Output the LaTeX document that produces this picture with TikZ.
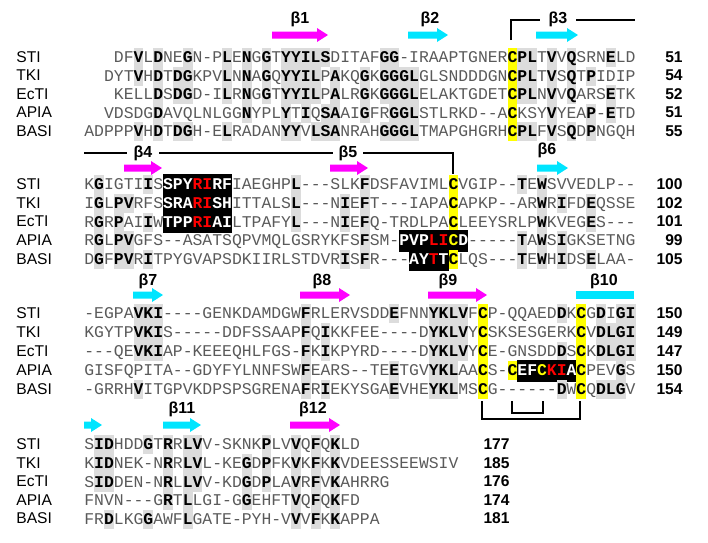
\documentclass[tikz,border=0pt]{standalone}
\usepackage{fontspec}
\setmainfont{Liberation Sans}
\newfontfamily\seqfont{Liberation Mono}[Ligatures=TeXOff]
\newfontfamily\grk{Liberation Sans}
\definecolor{shade}{HTML}{DCDCDC}
\definecolor{seqgray}{HTML}{5A5A5A}
\definecolor{mag}{HTML}{FF00FF}
\definecolor{cya}{HTML}{00E5FF}
\definecolor{yel}{HTML}{FFFF00}
\newcommand\sstrut{\rule[-2.3pt]{0pt}{9.5pt}}
\newcommand\sB[1]{{\setlength\fboxsep{0pt}\colorbox{shade}{\sstrut\textcolor{black}{\bfseries #1}}}}
\newcommand\sY[1]{{\setlength\fboxsep{0pt}\colorbox{yel}{\sstrut\textcolor{black}{\bfseries #1}}}}
\newcommand\sK[1]{{\setlength\fboxsep{0pt}\colorbox{black}{\rule[-3pt]{0pt}{11pt}\textcolor{white}{\bfseries #1}}}}
\newcommand\sR[1]{\textcolor{red}{#1}}
\newcommand\sYt[1]{\textcolor{yel}{#1}}
\tikzset{
 seq/.style={anchor=base west,inner sep=0pt,font=\seqfont\fontsize{8.2pt}{9pt}\selectfont,text=seqgray},
 nm/.style={anchor=west,inner sep=0pt,font=\fontsize{7.8pt}{9pt}\selectfont},
 num/.style={anchor=east,inner sep=0pt,font=\bfseries\fontsize{7.8pt}{9pt}\selectfont},
 blab/.style={inner sep=1pt,font=\grk\bfseries\fontsize{8pt}{9pt}\selectfont},
 brk/.style={line width=0.9pt}
}
% seq arrow: x1 x2 y color
\newcommand\sarr[4]{\fill[#4] (#1,#3-3.5) -- (#2-11,#3-3.5) -- (#2-11,#3-7) -- (#2,#3) -- (#2-11,#3+7) -- (#2-11,#3+3.5) -- (#1,#3+3.5) -- cycle;}
\newcommand\rowx[6]{% y, name, offset, seq, number, numx
 \node[nm] (n#2#1) at (16,#1) {#2};
 \node[seq] (s#2#1) at ({84+#3*9.84},#1+5.5) {#4};
 \node[num] (c#2#1) at (#6,#1) {#5};}
\begin{document}
\begin{tikzpicture}[x=0.5pt,y=-0.5pt]
\useasboundingbox (0,0) rectangle (708,542);
% block 1
\sarr{272}{328}{35}{mag}\node[blab] (b1) at (300,19) {β1};
\sarr{408}{448}{35}{cya}\node[blab] (b2) at (430,19) {β2};
\sarr{536}{578}{35}{cya}\node[blab] (b3) at (558,19) {β3};
\draw[brk] (511,40) -- (511,20) -- (540,20);
\draw[brk] (576,20) -- (635,20);
\rowx{57}{STI}{3}{DF\sB{V}L\sB{D}NE\sB{G}N-P\sB{L}E\sB{N}G\sB{G}T\sB{YYILS}DITAF\sB{GG}-IRAAPTGNER\sY{C}\sB{PL}T\sB{V}V\sB{Q}SRN\sB{E}LD}{51}{683}
\rowx{75.5}{TKI}{2}{DYT\sB{V}H\sB{D}T\sB{DG}KPV\sB{L}N\sB{N}A\sB{G}Q\sB{YYIL}P\sB{A}KQ\sB{G}K\sB{GGGL}GLSNDDDGN\sY{C}\sB{PL}T\sB{V}S\sB{Q}T\sB{P}IDIP}{54}{683}
\rowx{94}{EcTI}{3}{KELL\sB{D}S\sB{DG}D-I\sB{L}R\sB{N}G\sB{G}T\sB{YYIL}P\sB{A}LR\sB{G}K\sB{GGGL}ELAKTGDET\sY{C}\sB{PL}N\sB{V}V\sB{Q}ARS\sB{E}TK}{52}{683}
\rowx{112.5}{APIA}{2}{VDSDG\sB{D}AVQLNLGG\sB{N}YPL\sB{Y}T\sB{I}Q\sB{SA}AI\sB{G}FR\sB{GGL}STLRKD--A\sY{C}KSY\sB{V}YEA\sB{P}-\sB{E}TD}{51}{683}
\rowx{131}{BASI}{0}{ADPPP\sB{V}H\sB{D}T\sB{DG}H-E\sB{L}RADAN\sB{YY}V\sB{LSA}NRAH\sB{GGGL}TMAPGHGRH\sY{C}\sB{PL}F\sB{V}S\sB{Q}D\sB{P}NGQH}{55}{683}
% block 2
\draw[brk] (84,153) -- (127,153);
\node[blab] (b4) at (143,153) {β4};
\draw[brk] (159,153) -- (333,153);
\node[blab] (b5) at (348,153) {β5};
\draw[brk] (363,153) -- (453,153) -- (453,174);
\sarr{124}{162}{168}{mag}
\sarr{330}{368}{168}{mag}
\sarr{537}{568}{168}{cya}\node[blab] (b6) at (547,150) {β6};
\rowx{184}{STI}{0}{K\sB{G}IGTI\sB{I}S\sK{SPY\sR{RI}RF}IAEGHP\sB{L}---SLK\sB{F}DSFAVIML\sY{C}VGIP--\sB{T}E\sB{W}SVVEDLP--}{100}{683}
\rowx{203}{TKI}{0}{I\sB{G}L\sB{PV}RFS\sK{SRA\sR{RI}SH}ITTALS\sB{L}---N\sB{I}E\sB{F}T---IAPA\sY{C}APKP--AR\sB{W}R\sB{I}FD\sB{E}QSSE}{102}{683}
\rowx{221.5}{EcTI}{0}{R\sB{G}R\sB{P}AI\sB{I}W\sK{TPP\sR{RI}AI}LTPAFY\sB{L}---N\sB{I}E\sB{F}Q-TRDLPA\sY{C}LEEYSRLP\sB{W}KVEG\sB{E}S---}{101}{683}
\rowx{240}{APIA}{0}{R\sB{G}L\sB{PV}GFS--ASATSQPVMQLGSRYKFS\sB{F}SM-\sK{PVP\sR{LI}\sYt{C}D}-----\sB{T}A\sB{W}S\sB{I}GKSETNG}{99}{683}
\rowx{259}{BASI}{0}{D\sB{G}F\sB{PV}R\sB{I}TPYGVAPSDKIIRLSTDVR\sB{I}S\sB{F}R---\sK{AY\sR{T}T}\sY{C}LQS---\sB{T}E\sB{W}H\sB{I}DS\sB{E}LAA-}{105}{683}
% block 3
\sarr{133}{163}{295}{cya}\node[blab] (b7) at (148,281) {β7};
\sarr{300}{350}{295}{mag}\node[blab] (b8) at (322,281) {β8};
\sarr{428}{487}{295}{mag}\node[blab] (b9) at (448,281) {β9};
\fill[cya] (576,291) rectangle (634,299);\node[blab] (b10) at (604,281) {β10};
\rowx{313}{STI}{0}{-EGPA\sB{VKI}----GENKDAMDGW\sB{F}RLERVSDD\sB{E}FNN\sB{YKLV}F\sY{C}P-QQAED\sB{D}K\sY{C}G\sB{D}I\sB{GI}}{150}{683}
\rowx{332}{TKI}{0}{KGYTP\sB{VKI}S-----DDFSSAAP\sB{F}Q\sB{I}KKFEE----D\sB{YKLV}Y\sY{C}SKSESGERK\sY{C}V\sB{DLGI}}{149}{683}
\rowx{351}{EcTI}{0}{---QE\sB{VKI}AP-KEEEQHLFGS-\sB{F}K\sB{I}KPYRD----D\sB{YKLV}Y\sY{C}E-GNSDD\sB{D}S\sY{C}K\sB{DLGI}}{147}{683}
\rowx{370}{APIA}{0}{GISFQPITA--GDYFYLNNFSW\sB{F}EARS--TE\sB{E}TGV\sB{YKL}AA\sY{C}S-\sY{C}\sK{EF\sYt{C}\sR{KI}A}\sY{C}PEV\sB{G}S}{150}{683}
\rowx{389}{BASI}{0}{-GRRH\sB{V}ITGPVKDPSPSGRENA\sB{F}R\sB{I}EKYSGA\sB{E}VHE\sB{YKL}MS\sY{C}G------\sB{D}W\sY{C}Q\sB{DLG}V}{154}{683}
\draw[brk] (482,401) -- (482,419) -- (580,419) -- (580,401);
\draw[brk] (512,401) -- (512,413) -- (543,413) -- (543,401);
% block 4
\sarr{84}{102}{425}{cya}
\sarr{163}{201}{425}{cya}\node[blab] (b11) at (182,409) {β11};
\sarr{290}{340}{425}{mag}\node[blab] (b12) at (313,409) {β12};
\rowx{444}{STI}{0}{S\sB{ID}HDD\sB{G}T\sB{R}R\sB{LV}V-SKNK\sB{P}LV\sB{V}Q\sB{F}Q\sB{K}LD}{177}{510}
\rowx{463}{TKI}{0}{K\sB{ID}NEK-N\sB{R}R\sB{LV}L-KE\sB{G}D\sB{P}FK\sB{V}K\sB{F}K\sB{K}VDEESSEEWSIV}{185}{510}
\rowx{481.5}{EcTI}{0}{S\sB{ID}DEN-N\sB{R}L\sB{LV}V-KD\sB{G}D\sB{P}LA\sB{V}R\sB{F}V\sB{K}AHRRG}{176}{510}
\rowx{500}{APIA}{0}{FNVN---G\sB{R}T\sB{L}LGI-G\sB{G}EHFT\sB{V}Q\sB{F}Q\sB{K}FD}{174}{510}
\rowx{518.5}{BASI}{0}{FR\sB{D}LKG\sB{G}AWF\sB{L}GATE-PYH-V\sB{V}V\sB{F}K\sB{K}APPA}{181}{510}
\end{tikzpicture}
\end{document}
